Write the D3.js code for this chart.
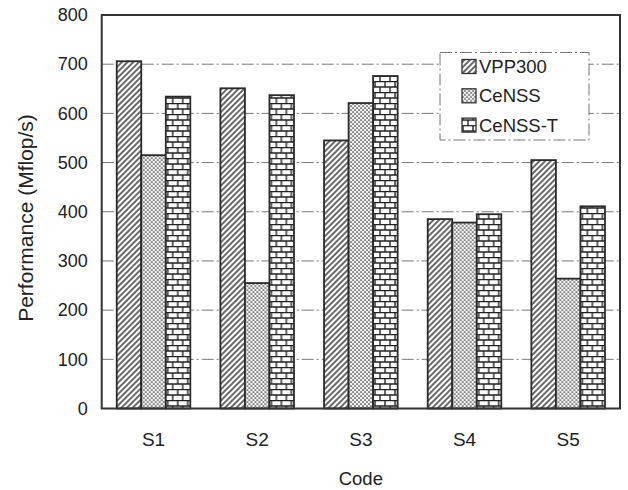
<!DOCTYPE html>
<html>
<head>
<meta charset="utf-8">
<script src="https://cdn.jsdelivr.net/npm/d3@7"></script>
<style>
  body { margin: 0; background: #fff; }
  text { font-family: "Liberation Sans", Arial, sans-serif; fill: #222; }
</style>
</head>
<body>
<div id="chart"></div>
<script>
// chart data
const codes = ["S1", "S2", "S3", "S4", "S5"];
const seriesNames = ["VPP300", "CeNSS", "CeNSS-T"];
const vpp300 = [706, 651, 545, 385, 505];
const censs = [515, 255, 621, 378, 264];
const censsT = [634, 637, 676, 395, 411];
const yTicks = [0, 100, 200, 300, 400, 500, 600, 700, 800];

const seriesValues = [vpp300, censs, censsT];
const patternIds = ["hatch", "dots", "brick"];

// set the dimensions and margins of the graph
const W = 628, H = 490;
const margin = {top: 15, right: 8, bottom: 81.5, left: 101.7};
const width = W - margin.left - margin.right,
      height = H - margin.top - margin.bottom;

const svg = d3.select("#chart")
    .append("svg")
    .attr("width", W)
    .attr("height", H);

// fill patterns
const defs = svg.append("defs");

const hatch = defs.append("pattern")
    .attr("id", "hatch")
    .attr("patternUnits", "userSpaceOnUse")
    .attr("width", 4).attr("height", 4)
    .attr("patternTransform", "rotate(45)");
hatch.append("rect").attr("width", 4).attr("height", 4).attr("fill", "#fff");
hatch.append("line")
    .attr("x1", 1).attr("y1", 0).attr("x2", 1).attr("y2", 4)
    .attr("stroke", "#2a2a2a").attr("stroke-width", 1.4);

const dots = defs.append("pattern")
    .attr("id", "dots")
    .attr("patternUnits", "userSpaceOnUse")
    .attr("width", 4).attr("height", 4);
dots.append("rect").attr("width", 4).attr("height", 4).attr("fill", "#f2f2f2");
dots.append("circle").attr("cx", 1).attr("cy", 1).attr("r", 0.85).attr("fill", "#333");
dots.append("circle").attr("cx", 3).attr("cy", 3).attr("r", 0.85).attr("fill", "#333");

const brick = defs.append("pattern")
    .attr("id", "brick")
    .attr("patternUnits", "userSpaceOnUse")
    .attr("width", 10).attr("height", 11);
brick.append("rect").attr("width", 10).attr("height", 11).attr("fill", "#fff");
brick.append("path")
    .attr("d", "M0,0.5H10M0,6H10M1,0.5V6M6,6V11")
    .attr("stroke", "#222").attr("stroke-width", 1.4).attr("fill", "none");

const g = svg.append("g")
    .attr("transform", `translate(${margin.left}, ${margin.top})`);

// scales
const x0 = d3.scaleBand()
    .domain(codes)
    .range([0, width])
    .paddingInner(0.29)
    .paddingOuter(0.145);

const x1 = d3.scaleBand()
    .domain(seriesNames)
    .range([0, x0.bandwidth()]);

const y = d3.scaleLinear()
    .domain([0, 800])
    .range([height, 0]);

// dash-dot gridlines
g.append("g")
    .selectAll("line")
    .data(yTicks.filter(d => d > 0 && d < 800))
    .join("line")
    .attr("x1", 0).attr("x2", width)
    .attr("y1", d => y(d)).attr("y2", d => y(d))
    .attr("stroke", "#777")
    .attr("stroke-width", 1)
    .attr("stroke-dasharray", "12,3,2,3");

// bars
const rows = codes.map((c, i) => ({code: c, vals: seriesNames.map((s, j) => ({s, j, v: seriesValues[j][i]}))}));

g.append("g")
    .selectAll("g")
    .data(rows)
    .join("g")
    .attr("transform", d => `translate(${x0(d.code)},0)`)
    .selectAll("rect")
    .data(d => d.vals)
    .join("rect")
    .attr("x", d => x1(d.s))
    .attr("y", d => y(d.v))
    .attr("width", x1.bandwidth())
    .attr("height", d => y(0) - y(d.v))
    .attr("fill", d => `url(#${patternIds[d.j]})`)
    .attr("stroke", "#2a2a2a")
    .attr("stroke-width", 1.8);

// legend
const legend = g.append("g")
    .attr("transform", `translate(${440 - margin.left}, ${52.5 - margin.top})`);
legend.append("rect")
    .attr("width", 149).attr("height", 87.5)
    .attr("fill", "#fff")
    .attr("stroke", "#777")
    .attr("stroke-dasharray", "12,3,2,3");
const li = legend.selectAll("g")
    .data(seriesNames)
    .join("g")
    .attr("transform", (d, i) => `translate(22, ${14 + i * 29.3})`);
li.append("rect")
    .attr("x", 0).attr("y", -7)
    .attr("width", 14).attr("height", 14)
    .attr("fill", (d, i) => `url(#${patternIds[i]})`)
    .attr("stroke", "#333")
    .attr("stroke-width", 1.3);
li.append("text")
    .attr("x", 17)
    .attr("dy", "0.36em")
    .style("font-size", "18.5px")
    .text(d => d);

// plot frame
g.append("rect")
    .attr("width", width).attr("height", height)
    .attr("fill", "none")
    .attr("stroke", "#333")
    .attr("stroke-width", 2);

// Y axis
const yAxis = g.append("g")
    .call(d3.axisLeft(y).tickValues(yTicks).tickSize(0).tickPadding(14));
yAxis.select(".domain").remove();
yAxis.selectAll("text").style("font-size", "18px").attr("fill", "#222");

// X axis
const xAxis = g.append("g")
    .attr("transform", `translate(0, ${height})`)
    .call(d3.axisBottom(x0).tickSize(0).tickPadding(24));
xAxis.select(".domain").remove();
xAxis.selectAll("text").style("font-size", "19px").attr("fill", "#222");

// axis titles
svg.append("text")
    .attr("text-anchor", "middle")
    .attr("x", margin.left + width / 2)
    .attr("y", 485)
    .style("font-size", "18.5px")
    .text("Code");

svg.append("text")
    .attr("text-anchor", "middle")
    .attr("transform", "translate(33, 218) rotate(-90)")
    .style("font-size", "21px")
    .text("Performance (Mflop/s)");
</script>
</body>
</html>
